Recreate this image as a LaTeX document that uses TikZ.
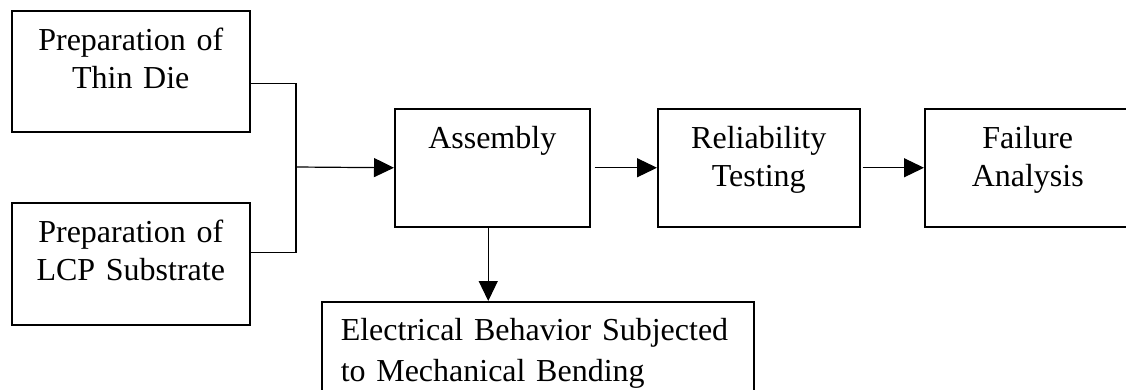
\documentclass[tikz,border=0pt]{standalone}
\usepackage{fontspec}
\setmainfont{Liberation Serif}
\usetikzlibrary{arrows.meta}

\begin{document}
\begin{tikzpicture}[x=1pt, y=-1pt,
    >={Triangle[length=20pt,width=19pt]},
    box/.style={draw, line width=1.5pt, align=center, inner sep=0pt,
      text height=40pt, font=\fontsize{32}{38}\selectfont},
    link/.style={line width=1.2pt}]

  \useasboundingbox (0,0) rectangle (1126,389);
  \clip (0,0) rectangle (1126,389);

  % Voorbereiding
  \node[box, anchor=north west, text width=238pt, text depth=81pt]
    (die) at (11,10) {Preparation of\\Thin Die};
  \node[box, anchor=north west, text width=238pt, text depth=82pt]
    (lcp) at (11,202) {Preparation of\\LCP Substrate};

  % Hoofdlijn
  \node[box, anchor=north west, text width=195pt, text depth=78pt]
    (asm) at (394,108) {Assembly};
  \node[box, anchor=north west, text width=202pt, text depth=78pt]
    (rel) at (657,108) {Reliability\\Testing};
  \node[box, anchor=north west, text width=206pt, text depth=78pt]
    (fail) at (924,108) {Failure\\Analysis};

  % Buigproef
  \node[box, anchor=north west, align=left, inner xsep=19pt,
    text width=394pt, text height=39pt, text depth=100pt,
    font=\fontsize{32}{41}\selectfont]
    (elec) at (321,301) {Electrical Behavior Subjected\\to Mechanical Bending};

  % Verbindingen
  \coordinate (join) at (296,167);
  \draw[link] ([yshift=-12.5pt]die.east) -| (join);
  \draw[link] ([yshift=11pt]lcp.east) -| (join);
  \draw[link, ->] (join) -- (asm.west);

  \draw[link, ->, shorten <=4pt] (asm.east) -- (rel.west);
  \draw[link, ->, shorten <=2pt] (rel.east) -- (fail.west);

  \draw[link, ->]
    ([xshift=-4pt]asm.south) -- ([xshift=-4pt]asm.south |- elec.north);

\end{tikzpicture}
\end{document}
